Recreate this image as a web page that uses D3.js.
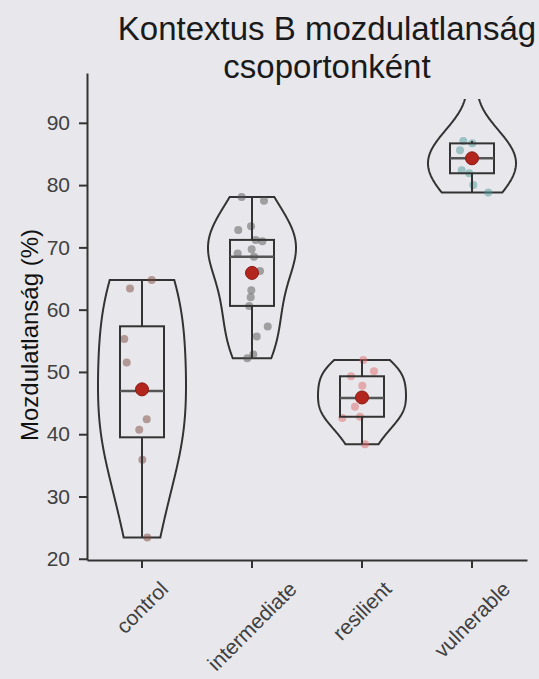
<!DOCTYPE html>
<html>
<head>
<meta charset="utf-8">
<script src="https://cdn.jsdelivr.net/npm/d3@7"></script>
<style>
  html, body { margin: 0; padding: 0; background: #e8e8ec; }
  svg { display: block; }
  text { font-family: "Liberation Sans", Arial, sans-serif; }
</style>
</head>
<body>
<svg id="chart" width="539" height="679"></svg>
<script>
// ---------- data ----------
const categories = ["control", "intermediate", "resilient", "vulnerable"];

const controlValues = [64.75, 63.4, 55.3, 51.5, 42.4, 40.7, 35.9, 23.4];
const controlJitter = [0.088, -0.109, -0.161, -0.139, 0.043, -0.025, 0.003, 0.048];

const intermediateValues = [78.1, 77.5, 73.4, 72.8, 71.2, 71.0, 69.7, 69.0, 68.5, 66.2, 63.1, 62.0, 60.6, 57.3, 55.7, 52.8, 52.2];
const intermediateJitter = [-0.094, 0.109, -0.009, -0.125, 0.034, 0.094, -0.003, -0.13, 0.018, 0.073, -0.006, -0.012, -0.025, 0.143, 0.043, 0.012, -0.043];

const resilientValues = [51.9, 50.1, 49.3, 47.8, 45.8, 44.4, 42.8, 42.6, 38.4];
const resilientJitter = [0.012, 0.109, -0.1, 0.003, -0.009, -0.064, -0.018, -0.179, 0.027];

const vulnerableValues = [101.0, 87.1, 86.7, 85.6, 84.3, 82.4, 81.9, 80.0, 78.8];
const vulnerableJitter = [0.0, -0.079, 0.003, -0.109, -0.009, -0.094, -0.025, 0.012, 0.148];

const groupMeans = [47.2, 65.9, 45.9, 84.3];

const pointColors = ["#7d4a40", "#555555", "#e06a6a", "#4f9a9a"];

const yTicks = [20, 30, 40, 50, 60, 70, 80, 90];

const titleLines = ["Kontextus B mozdulatlanság", "csoportonként"];
const yLabel = "Mozdulatlanság (%)";

// ---------- build ----------
const groupValues = [controlValues, intermediateValues, resilientValues, vulnerableValues];
const groupJitter = [controlJitter, intermediateJitter, resilientJitter, vulnerableJitter];

const svg = d3.select("#chart");
const W = 539, H = 679;
svg.append("rect").attr("width", W).attr("height", H).attr("fill", "#e8e8ec");

const plot = { left: 87, right: 527, top: 73, bottom: 560 };

const x = d3.scaleBand().domain(categories).range([plot.left, plot.right]).padding(0);
const y = d3.scaleLinear().domain([19.8, 98]).range([plot.bottom, plot.top]);

const defs = svg.append("defs");
defs.append("clipPath").attr("id", "clipPlot")
  .append("rect").attr("x", plot.left).attr("y", 99)
  .attr("width", plot.right - plot.left).attr("height", plot.bottom - 99);

const marks = svg.append("g").attr("clip-path", "url(#clipPlot)");

const ink = "#333333";
const tickFont = 21;

function kdeCurve(vals) {
  const n = vals.length;
  const sd = d3.deviation(vals);
  const bw = sd * Math.pow(n, -1 / 5);
  const lo = d3.min(vals), hi = d3.max(vals);
  const grid = d3.range(100).map(i => lo + (hi - lo) * i / 99);
  return grid.map(g => [g, d3.sum(vals, v => Math.exp(-0.5 * ((g - v) / bw) ** 2))]);
}

categories.forEach((cat, gi) => {
  const vals = groupValues[gi];
  const cx = x(cat) + x.bandwidth() / 2;
  const halfW = x.bandwidth() * 0.4;

  // violin
  const curve = kdeCurve(vals);
  const maxD = d3.max(curve, d => d[1]);
  const area = d3.area()
    .y(d => y(d[0]))
    .x0(d => cx - halfW * d[1] / maxD)
    .x1(d => cx + halfW * d[1] / maxD);
  marks.append("path").attr("d", area(curve) + "Z")
    .attr("fill", "none").attr("stroke", ink).attr("stroke-width", 2);

  // box stats
  const sorted = vals.slice().sort(d3.ascending);
  const q1 = d3.quantileSorted(sorted, 0.25);
  const med = d3.quantileSorted(sorted, 0.5);
  const q3 = d3.quantileSorted(sorted, 0.75);
  const iqr = q3 - q1;
  const wLo = d3.min(sorted.filter(v => v >= q1 - 1.5 * iqr));
  const wHi = d3.max(sorted.filter(v => v <= q3 + 1.5 * iqr));
  const boxHalf = x.bandwidth() * 0.2;

  // points
  marks.append("g").selectAll("circle").data(vals).join("circle")
    .attr("cx", (d, i) => cx + groupJitter[gi][i] * x.bandwidth())
    .attr("cy", d => y(d))
    .attr("r", 4)
    .attr("fill", pointColors[gi])
    .attr("fill-opacity", 0.5);

  // whiskers
  marks.append("line").attr("x1", cx).attr("x2", cx).attr("y1", y(q3)).attr("y2", y(wHi))
    .attr("stroke", ink).attr("stroke-width", 2);
  marks.append("line").attr("x1", cx).attr("x2", cx).attr("y1", y(q1)).attr("y2", y(wLo))
    .attr("stroke", ink).attr("stroke-width", 2);
  // box
  marks.append("rect").attr("x", cx - boxHalf).attr("width", 2 * boxHalf)
    .attr("y", y(q3)).attr("height", y(q1) - y(q3))
    .attr("fill", "none").attr("stroke", ink).attr("stroke-width", 2);
  // median
  marks.append("line").attr("x1", cx - boxHalf).attr("x2", cx + boxHalf)
    .attr("y1", y(med)).attr("y2", y(med))
    .attr("stroke", "#555").attr("stroke-width", 2.5);
  // mean
  marks.append("circle").attr("cx", cx).attr("cy", y(groupMeans[gi])).attr("r", 6.5)
    .attr("fill", "#b3261e").attr("stroke", "#8a1a14").attr("stroke-width", 1);
});

// ---------- axes ----------
const yAxis = svg.append("g").attr("transform", `translate(${plot.left},0)`)
  .call(d3.axisLeft(y).tickValues(yTicks).tickSize(8).tickSizeOuter(0).tickPadding(9));
const xAxis = svg.append("g").attr("transform", `translate(0,${plot.bottom})`)
  .call(d3.axisBottom(x).tickSize(8).tickSizeOuter(0).tickFormat(""));

[yAxis, xAxis].forEach(a => {
  a.select(".domain").attr("stroke", ink).attr("stroke-width", 2);
  a.selectAll(".tick line").attr("stroke", ink).attr("stroke-width", 2);
});
yAxis.selectAll(".tick text").attr("font-size", tickFont).attr("fill", "#404040")
  .attr("font-family", "'Liberation Sans', Arial, sans-serif");

// rotated x labels (bbox centred under tick)
const xl = svg.append("g");
categories.forEach(cat => {
  const cx = x(cat) + x.bandwidth() / 2;
  const t = xl.append("text").text(cat)
    .attr("font-size", tickFont).attr("fill", "#404040")
    .attr("text-anchor", "middle").attr("dy", "0.35em");
  const L = t.node().getComputedTextLength();
  const h = tickFont * 1.1;
  const bh = (L + h) / Math.SQRT2;
  t.attr("transform", `translate(${cx},${577 + bh / 2}) rotate(-45)`);
});

// y label
svg.append("text").text(yLabel)
  .attr("transform", `translate(38,${335}) rotate(-90)`)
  .attr("text-anchor", "middle").attr("font-size", 24).attr("fill", "#111");

// title
const title = svg.append("text").attr("text-anchor", "middle")
  .attr("font-size", 33).attr("fill", "#1a1a1a");
titleLines.forEach((line, i) => {
  title.append("tspan").attr("x", 327).attr("y", 40 + i * 38).text(line);
});
</script>
</body>
</html>
